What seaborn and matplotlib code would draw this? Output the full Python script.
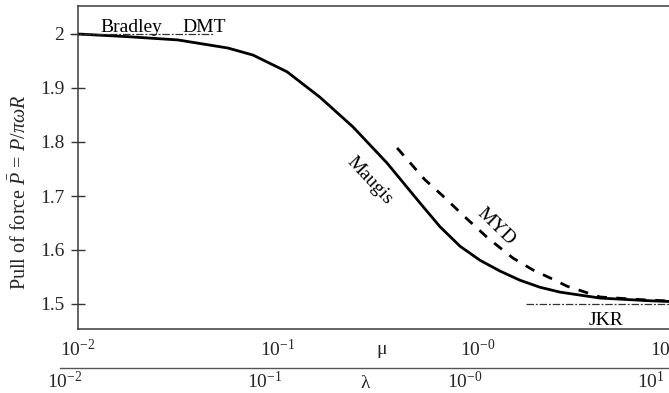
import numpy as np
import pandas as pd
import matplotlib
matplotlib.use("Agg")
import matplotlib.pyplot as plt
import seaborn as sns

# ---- data ----
maugis_mu = [0.01, 0.0178, 0.0316, 0.0562, 0.075, 0.111, 0.162, 0.237, 0.351,
             0.513, 0.646, 0.813, 1.023, 1.288, 1.622, 2.042, 2.570, 4.074,
             7.244, 12.0]
maugis_p = [2.000, 1.995, 1.989, 1.974, 1.961, 1.930, 1.883, 1.828, 1.761,
            1.687, 1.643, 1.607, 1.581, 1.561, 1.544, 1.531, 1.522, 1.511,
            1.506, 1.503]

myd_mu = [0.394, 0.543, 0.668, 0.861, 1.122, 1.496, 1.884, 2.427, 2.786,
          4.074, 7.244, 12.0]
myd_p = [1.789, 1.730, 1.700, 1.661, 1.622, 1.585, 1.563, 1.544, 1.533,
         1.513, 1.507, 1.504]

dmt_mu = [0.0091, 0.0473]
dmt_p = [2.0, 2.0]
jkr_mu = [1.738, 12.0]
jkr_p = [1.5, 1.5]

y_ticks = [1.5, 1.6, 1.7, 1.8, 1.9, 2.0]
y_tick_labels = ["1.5", "1.6", "1.7", "1.8", "1.9", "2"]
mu_ticks = [0.01, 0.1, 1.0, 10.0]
mu_tick_labels = [r"$10^{-2}$", r"$10^{-1}$", r"$10^{-0}$", r"$10^{1}$"]
lam_ticks = [0.01, 0.1, 1.0, 10.0]
lam_tick_labels = [r"$10^{-2}$", r"$10^{-1}$", r"$10^{-0}$", r"$10^{1}$"]

sns.set_theme(style="white")
plt.rcParams["font.family"] = ["Liberation Serif", "DejaVu Serif"]
plt.rcParams["mathtext.fontset"] = "custom"
plt.rcParams["mathtext.rm"] = "Liberation Serif"
plt.rcParams["mathtext.it"] = "Liberation Serif:italic"
plt.rcParams["mathtext.bf"] = "Liberation Serif:bold"

FS = 14
W, H = 669, 393
fig = plt.figure(figsize=(W / 100, H / 100), dpi=100)

# main axes (pixel geometry: left 78, top 6, bottom 329, 200 px per decade)
left, top, bottom = 78, 6, 329
decades = 3.2
ax = fig.add_axes([left / W, (H - bottom) / H, 200 * decades / W, (bottom - top) / H])
ax.set_xscale("log")
ax.set_xlim(0.01, 10 ** (-2 + decades))
ax.set_ylim(1.5 - 25 / 540, 2.0 + 28 / 540)

df_m = pd.DataFrame({"mu": maugis_mu, "P": maugis_p})
df_y = pd.DataFrame({"mu": myd_mu, "P": myd_p})
sns.lineplot(data=df_m, x="mu", y="P", ax=ax, color="black", lw=2.0, sort=False,
             solid_joinstyle="round")
sns.lineplot(data=df_y, x="mu", y="P", ax=ax, color="black", lw=2.0, sort=False,
             linestyle=(0, (3.6, 3.4)))
ax.plot(dmt_mu, dmt_p, color="#333333", lw=0.9, ls=(0, (6, 1.5, 1.5, 1.5)), clip_on=False)
ax.plot(jkr_mu, jkr_p, color="#333333", lw=0.9, ls=(0, (6, 1.5, 1.5, 1.5)))

ax.set_xlabel("")
ax.set_ylabel("")
ax.set_yticks(y_ticks)
ax.set_yticklabels(y_tick_labels)
ax.set_xticks(mu_ticks)
ax.set_xticklabels(mu_tick_labels)
ax.get_xticklabels()[-1].set_ha("right")
ax.xaxis.set_minor_locator(matplotlib.ticker.NullLocator())
ax.tick_params(axis="y", direction="inout", length=10, width=1.0, color="#333333",
               labelsize=FS, pad=5, left=True)
ax.tick_params(axis="x", length=0, labelsize=FS, pad=7, bottom=True)

for s in ["left", "top", "bottom"]:
    ax.spines[s].set_visible(True)
    ax.spines[s].set_color("#3a3a3a")
    ax.spines[s].set_linewidth(1.1)
ax.spines["right"].set_visible(False)

# annotations
tk = dict(fontsize=FS, color="black")
ax.text(10 ** -1.89, 2.003, "Bradley", ha="left", va="baseline", **tk)
ax.text(10 ** -1.48, 2.003, "DMT", ha="left", va="baseline", **tk)
ax.text(0.288, 1.728, "Maugis", rotation=-47, ha="center", va="center",
        rotation_mode="anchor", **tk)
ax.text(1.23, 1.644, "MYD", rotation=-44, ha="center", va="center",
        rotation_mode="anchor", **tk)
ax.text(4.365, 1.470, "JKR", ha="center", va="center", **tk)

# mu symbol below axis
fig.text(382 / W, 1 - 350 / H, "\u03bc", ha="center", va="center", fontsize=FS)

# lambda axis (separate line below)
lam_left = 60
lam_y = 368
lam_zero = 65  # pixel of lambda = 1e-2
ax2 = fig.add_axes([lam_left / W, (H - lam_y) / H, (720 - lam_left) / W, 0.0001])
ax2.set_xscale("log")
ax2.set_xlim(10 ** (-2 + (lam_left - lam_zero) / 200), 10 ** (-2 + (720 - lam_zero) / 200))
ax2.set_xticks(lam_ticks)
ax2.set_xticklabels(lam_tick_labels)
ax2.get_xticklabels()[-1].set_ha("right")
ax2.xaxis.set_minor_locator(matplotlib.ticker.NullLocator())
ax2.set_yticks([])
ax2.tick_params(axis="x", length=0, labelsize=FS, pad=2, bottom=True)
for s in ["left", "top", "right"]:
    ax2.spines[s].set_visible(False)
ax2.spines["bottom"].set_visible(True)
ax2.spines["bottom"].set_color("#555555")
ax2.spines["bottom"].set_linewidth(1.0)
ax2.patch.set_alpha(0)
fig.text(365 / W, 1 - 384 / H, "\u03bb", ha="center", va="center", fontsize=FS)

# y label
fig.text(20 / W, 1 - 192 / H, r"Pull of force $\bar{P}$ = $P/\pi\omega R$",
         rotation=90, ha="center", va="center", fontsize=14.5)

fig.savefig("out.png", dpi=100)
